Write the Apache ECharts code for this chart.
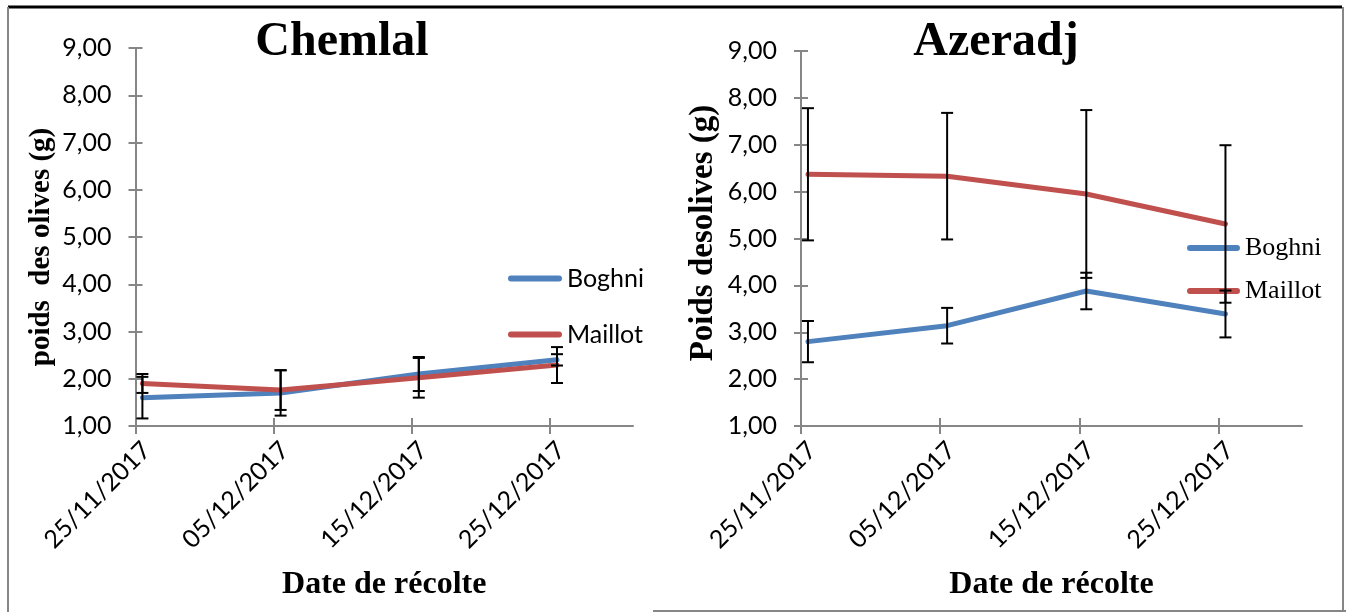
<!DOCTYPE html>
<html>
<head>
<meta charset="utf-8">
<script src="https://cdn.jsdelivr.net/npm/echarts@6/dist/echarts.min.js"></script>
<style>
  html, body { margin: 0; padding: 0; background: #fff; }
  #chart { width: 1346px; height: 612px; }
</style>
</head>
<body>
<div id="chart"></div>
<script>
// dates de récolte (ticks every 10 days) and the day where each sample was plotted
const dateLabels = ['25/11/2017', '05/12/2017', '15/12/2017', '25/12/2017']
const tickDays = [0, 10, 20, 30]
const sampleDays = [0.5, 10.5, 20.5, 30.5]
const yTickLabels = ['1,00', '2,00', '3,00', '4,00', '5,00', '6,00', '7,00', '8,00', '9,00']

// Chemlal
const chemlalBoghni = [1.60, 1.70, 2.10, 2.40]
const chemlalBoghniErr = [0.44, 0.48, 0.36, 0.12]
const chemlalMaillot = [1.90, 1.76, 2.02, 2.29]
const chemlalMaillotErr = [0.20, 0.42, 0.42, 0.38]

// Azeradj
const azeradjBoghni = [2.80, 3.14, 3.88, 3.39]
const azeradjBoghniErr = [0.44, 0.38, 0.39, 0.50]
const azeradjMaillot = [6.37, 6.33, 5.95, 5.31]
const azeradjMaillotErr = [1.41, 1.35, 1.79, 1.68]

const BLUE = '#4F81BD'
const RED = '#C0504D'
const AXIS = '#868686'
const SANS = 'Lato'
const SERIF = 'Liberation Serif'
// rotated date labels sit a little right of their tick in the original
const LABEL_SHIFT = 0.8

const chart = echarts.init(document.getElementById('chart'))

const toPoints = vals => vals.map((v, i) => [sampleDays[i], v])
const toBars = (vals, errs) => vals.map((v, i) => [sampleDays[i], v - errs[i], v + errs[i]])

const renderErrorBar = (params, api) => {
  const top = api.coord([api.value(0), api.value(2)])
  const bottom = api.coord([api.value(0), api.value(1)])
  const half = 6
  const style = { stroke: '#000', lineWidth: 2 }
  return {
    type: 'group',
    children: [
      { type: 'line', shape: { x1: top[0], y1: top[1], x2: bottom[0], y2: bottom[1] }, style },
      { type: 'line', shape: { x1: top[0] - half, y1: top[1], x2: top[0] + half, y2: top[1] }, style },
      { type: 'line', shape: { x1: bottom[0] - half, y1: bottom[1], x2: bottom[0] + half, y2: bottom[1] }, style }
    ]
  }
}

const xAxisPair = (gridIndex, name) => [
  {
    type: 'value', gridIndex, min: 0, max: 36, position: 'bottom',
    name, nameLocation: 'middle', nameGap: 143,
    nameTextStyle: { fontFamily: SERIF, fontWeight: 'bold', fontSize: 32, color: '#000' },
    axisLine: { lineStyle: { color: AXIS, width: 2 } },
    axisTick: { show: true, customValues: tickDays, length: 8, lineStyle: { color: AXIS, width: 2 } },
    axisLabel: {
      customValues: tickDays.map(d => d + LABEL_SHIFT), rotate: 45, margin: 20,
      fontFamily: SANS, fontSize: 25, color: '#000',
      formatter: v => dateLabels[Math.round((v - LABEL_SHIFT) / 10)] || ''
    },
    splitLine: { show: false }
  },
  {
    type: 'value', gridIndex, min: 0, max: 36, position: 'bottom',
    axisLine: { show: false },
    axisTick: { show: true, inside: true, customValues: tickDays, length: 8, lineStyle: { color: AXIS, width: 2 } },
    axisLabel: { show: false },
    splitLine: { show: false }
  }
]

const yAxisPair = gridIndex => [
  {
    type: 'value', gridIndex, min: 1, max: 9, interval: 1, position: 'left',
    axisLine: { show: true, lineStyle: { color: AXIS, width: 2 } },
    axisTick: { show: true, length: 7, lineStyle: { color: AXIS, width: 2 } },
    axisLabel: {
      margin: 24, fontFamily: SANS, fontSize: 25, color: '#000',
      formatter: v => yTickLabels[Math.round(v) - 1]
    },
    splitLine: { show: false }
  },
  {
    type: 'value', gridIndex, min: 1, max: 9, interval: 1, position: 'left',
    axisLine: { show: false },
    axisTick: { show: true, inside: true, length: 7, lineStyle: { color: AXIS, width: 2 } },
    axisLabel: { show: false },
    splitLine: { show: false }
  }
]

const lineSeries = (name, color, vals, idx) => ({
  name, type: 'line', xAxisIndex: idx * 2, yAxisIndex: idx * 2,
  data: toPoints(vals), showSymbol: false, symbol: 'none',
  lineStyle: { color, width: 5, cap: 'round' }, itemStyle: { color },
  silent: true, animation: false
})

const errSeries = (vals, errs, idx) => ({
  type: 'custom', xAxisIndex: idx * 2, yAxisIndex: idx * 2,
  data: toBars(vals, errs), renderItem: renderErrorBar,
  silent: true, animation: false, z: 5
})

const legendIcon = 'path://M3,0 L51,0 A3,3 0 0 1 51,6 L3,6 A3,3 0 0 1 3,0 Z'

const vText = (text, x, y, size) => ({
  type: 'text', x, y, rotation: Math.PI / 2,
  style: { text, font: `bold ${size}px "Liberation Serif"`, fill: '#000', textAlign: 'center', textVerticalAlign: 'middle' }
})

chart.setOption({
  animation: false,
  grid: [
    { left: 135.5, top: 48, width: 497.5, height: 378 },
    { left: 801, top: 51, width: 501, height: 375 }
  ],
  xAxis: [...xAxisPair(0, 'Date de récolte'), ...xAxisPair(1, 'Date de récolte')],
  yAxis: [...yAxisPair(0), ...yAxisPair(1)],
  legend: [
    {
      data: ['Boghni', 'Maillot'], orient: 'vertical', left: 503, top: 261,
      itemWidth: 54, itemHeight: 6, itemGap: 31, icon: legendIcon,
      textStyle: { fontFamily: SANS, fontSize: 25, color: '#000', lineHeight: 24 },
      selectedMode: false
    },
    {
      data: ['Boghni', 'Maillot'], orient: 'vertical', left: 1182, top: 230,
      itemWidth: 53, itemHeight: 6, itemGap: 17, icon: legendIcon,
      textStyle: { fontFamily: SERIF, fontSize: 26, color: '#000', lineHeight: 26 },
      selectedMode: false
    }
  ],
  graphic: [
    { type: 'text', x: 342, y: 43, style: { text: 'Chemlal', font: 'bold 48px "Liberation Serif"', fill: '#000', textAlign: 'center', textVerticalAlign: 'middle' } },
    { type: 'text', x: 996, y: 43, style: { text: 'Azeradj', font: 'bold 48px "Liberation Serif"', fill: '#000', textAlign: 'center', textVerticalAlign: 'middle' } },
    vText('poids  des olives (g)', 42, 247, 29),
    vText('Poids desolives (g)', 703, 233, 33),
    { type: 'line', shape: { x1: 8, y1: 7, x2: 1342, y2: 7 }, style: { stroke: '#000', lineWidth: 3 } },
    { type: 'line', shape: { x1: 8, y1: 7, x2: 8, y2: 612 }, style: { stroke: AXIS, lineWidth: 2 } },
    { type: 'line', shape: { x1: 1343, y1: 7, x2: 1343, y2: 612 }, style: { stroke: AXIS, lineWidth: 2 } },
    { type: 'line', shape: { x1: 653, y1: 611, x2: 1346, y2: 611 }, style: { stroke: AXIS, lineWidth: 2 } }
  ],
  series: [
    lineSeries('Boghni', BLUE, chemlalBoghni, 0),
    lineSeries('Maillot', RED, chemlalMaillot, 0),
    errSeries(chemlalBoghni, chemlalBoghniErr, 0),
    errSeries(chemlalMaillot, chemlalMaillotErr, 0),
    lineSeries('Boghni', BLUE, azeradjBoghni, 1),
    lineSeries('Maillot', RED, azeradjMaillot, 1),
    errSeries(azeradjBoghni, azeradjBoghniErr, 1),
    errSeries(azeradjMaillot, azeradjMaillotErr, 1)
  ]
})
</script>
</body>
</html>
